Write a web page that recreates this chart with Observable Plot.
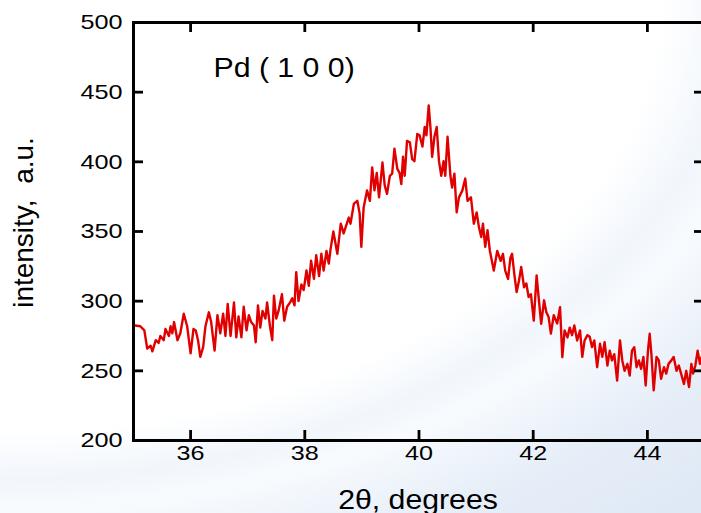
<!DOCTYPE html>
<html><head><meta charset="utf-8">
<script src="https://cdn.jsdelivr.net/npm/d3@7"></script>
<script src="https://cdn.jsdelivr.net/npm/@observablehq/plot@0.6"></script>
<style>
html,body{margin:0;padding:0;overflow:hidden;width:701px;height:513px;}
body{background: radial-gradient(ellipse 733px 480px at 0px 0px, #ffffff 0%, #ffffff 90%, #f1f6fc 100%, #f8fbfe 106%, #e6eef8 122%, #dfe9f5 140%);}
#chart{position:absolute;left:0;top:0;width:706px;}
</style></head><body><div id="chart"></div>
<script>
const twoTheta = [35.03,35.12,35.19,35.24,35.30,35.33,35.39,35.44,35.47,35.53,35.56,35.62,35.65,35.68,35.71,35.77,35.82,35.88,35.94,36.00,36.05,36.09,36.13,36.17,36.22,36.26,36.32,36.36,36.42,36.47,36.52,36.57,36.61,36.65,36.70,36.76,36.80,36.84,36.89,36.93,36.98,37.02,37.06,37.11,37.14,37.18,37.22,37.26,37.31,37.34,37.39,37.43,37.46,37.50,37.54,37.60,37.64,37.69,37.74,37.78,37.82,37.85,37.89,37.94,37.98,38.03,38.07,38.11,38.16,38.20,38.25,38.29,38.33,38.38,38.42,38.45,38.50,38.57,38.63,38.68,38.77,
38.80,38.86,38.92,38.96,38.99,39.03,39.09,39.14,39.18,39.22,39.26,39.30,39.36,39.40,39.44,39.49,39.53,39.57,39.62,39.66,39.69,39.72,39.75,39.79,39.84,39.88,39.92,39.97,40.01,40.06,40.10,40.13,40.17,40.20,40.23,40.27,40.31,40.35,40.39,40.43,40.46,40.50,40.55,40.58,40.62,40.66,40.70,40.76,40.81,40.85,40.91,40.96,41.01,41.05,41.09,41.12,41.16,41.20,41.24,
41.31,41.37,41.43,41.47,41.51,41.56,41.60,41.63,41.67,41.71,41.75,41.79,41.84,41.88,41.92,41.96,42.01,42.06,42.10,42.14,42.19,42.23,42.27,42.31,42.36,42.42,42.47,42.51,42.55,42.60,42.64,42.68,42.72,42.77,42.82,42.86,42.90,42.95,42.99,43.03,43.07,43.12,43.17,43.21,43.25,43.30,43.34,43.38,43.42,43.47,43.52,43.56,43.60,43.65,43.69,43.73,43.77,43.81,43.85,43.89,43.93,43.97,44.01,44.04,44.07,44.11,44.16,44.20,44.24,44.29,44.33,44.37,44.42,44.46,44.51,44.55,44.59,44.64,44.68,44.73,44.77,44.80,44.84,44.88,44.92,44.95];

const intensity = [282.5,282,279,266,268,264,272,270,275,272,280,275,282,277,285,272,277,291,282,262.5,280,279,272,260,267,282,292,285,264.5,290,277,291,275,298,275,299,274,289,274,296,279,290,285,282.5,270.5,297,281,293,287.5,299,282,272,304,287.5,293,305,286,296,299,302,297,320.8,300,312,308,322,311,329,316,333,318,334,322,336,327,337,350,334,355.6,348.6,360,
355.6,370,372,363,339,367,379.5,372,396,379.5,392,374.5,399.5,383,377,390,391.5,409.5,395,392,384,403.6,390,415,414,402,400.5,420,419,411,425,419,440.5,425,403.6,418,425,400.5,390,400.5,390,418,390,381.6,391.5,363.7,374.5,379.5,388,372,374.5,355.6,363.7,353,346,355.6,339,351,336.4,
322,336,329,334,322,316,331,334,319,306.5,314.5,324.6,310,312.7,303,305,286,318.5,300.6,283.7,300.6,292,288.6,276.8,290,284,295.7,259.8,279,274,281,275.6,282.6,271.8,279,260,271.8,275.6,274.4,267,271.8,252.6,269.4,260,270.6,253.8,264.5,257.5,262,243,271.8,257.5,250,255,246.6,264.5,267,252.6,257.5,251.4,260,239.5,264.5,276.6,262,236,260,257.5,244.3,252.6,248,255,257.5,260,250,253.8,248,240.6,250,238.4,255,248,253.8,264.5,255,260];

const xTicks = [36, 38, 40, 42, 44];
const yTicks = [200, 250, 300, 350, 400, 450, 500];
const yInner = [250, 300, 350, 400, 450];
const xLabel = "2θ, degrees";
const yLabel = "intensity,  a.u.";
const peakLabel = "Pd ( 1 0 0)";

const data = twoTheta.map((x, i) => ({x, y: intensity[i]}));

// plot frame: 706 x 513 with margins 133/2/22/73 -> inner 571 x 418; ticks point inward
const W = 706, H = 513, mL = 133, mR = 2, mT = 22, mB = 73, TL = 10;
const innerW = W - mL - mR, innerH = H - mT - mB;
const tickStyle = {stroke: "#000", strokeWidth: 2.8};

const plot = Plot.plot({
  width: W, height: H,
  marginLeft: mL, marginRight: mR, marginTop: mT, marginBottom: mB,
  style: {background: "transparent", fontFamily: "'Liberation Sans', Arial, sans-serif", color: "#000", overflow: "visible", maxWidth: "none"},
  x: {domain: [35, 45]},
  y: {domain: [200, 500]},
  marks: [
    Plot.line(data, {x: "x", y: "y", stroke: "#e00000", strokeWidth: 2.4}),
    Plot.axisX(xTicks, {anchor: "bottom", tickSize: 0, tickPadding: 5, fontSize: 21, label: null}),
    Plot.axisY(yTicks, {anchor: "left", tickSize: 0, tickPadding: 11, fontSize: 21, label: null}),
    Plot.frame({stroke: "#000", strokeWidth: 3}),
    Plot.tickX(xTicks, {x: d => d, insetTop: innerH - TL, ...tickStyle}),
    Plot.tickX(xTicks, {x: d => d, insetBottom: innerH - TL, ...tickStyle}),
    Plot.tickY(yInner, {y: d => d, insetRight: innerW - TL, ...tickStyle}),
    Plot.tickY(yInner, {y: d => d, insetLeft: innerW - TL, ...tickStyle}),
    Plot.text([peakLabel], {frameAnchor: "top-left", dx: 80, dy: 54, textAnchor: "start", lineAnchor: "bottom", fontSize: 27, fill: "#000", className: "stretch-label"}),
    Plot.text([xLabel], {frameAnchor: "bottom", dx: -1, dy: 68, textAnchor: "middle", lineAnchor: "bottom", fontSize: 27, fill: "#000", className: "stretch-label"}),
    Plot.text([yLabel], {frameAnchor: "left", dx: -109, dy: -9, rotate: -90, textAnchor: "middle", lineAnchor: "middle", fontSize: 28, fill: "#000"})
  ]
});
document.getElementById("chart").append(plot);

// widen glyphs horizontally like the reference
function stretch(sel, k) {
  plot.querySelectorAll(sel).forEach(t => {
    if (!t.textContent) return;
    const L = t.getComputedTextLength();
    t.setAttribute("textLength", (L * k).toFixed(1));
    t.setAttribute("lengthAdjust", "spacingAndGlyphs");
  });
}
stretch('g[aria-label="x-axis tick label"] text, g[aria-label="y-axis tick label"] text', 1.2);
stretch('g.stretch-label text', 1.12);
</script></body></html>
